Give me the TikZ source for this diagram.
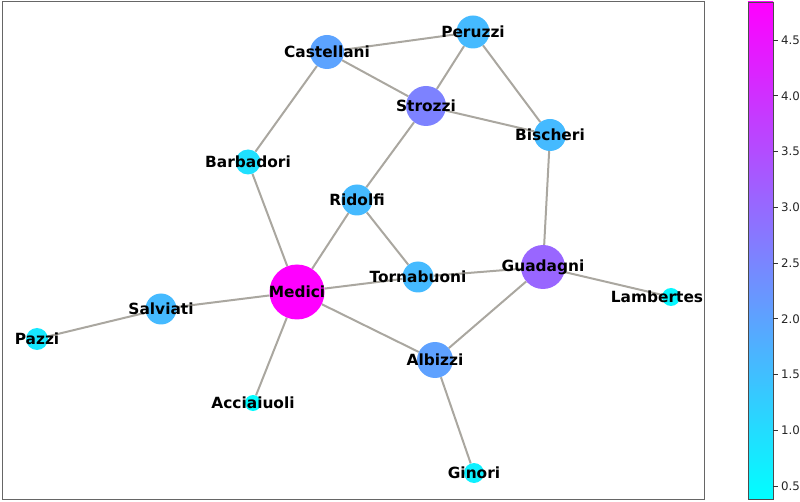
\documentclass[tikz,border=0pt]{standalone}
\usepackage{fontspec}
\setmainfont{DejaVu Sans}
\usetikzlibrary{backgrounds}
\definecolor{edgegray}{RGB}{170,167,160}
\definecolor{cMed}{rgb}{1.00,0.00,1}
\definecolor{cGua}{rgb}{0.60,0.40,1}
\definecolor{cStr}{rgb}{0.49,0.51,1}
\definecolor{cAlb}{rgb}{0.37,0.63,1}
\definecolor{cCas}{rgb}{0.36,0.64,1}
\definecolor{cMid}{rgb}{0.27,0.73,1}
\definecolor{cBar}{rgb}{0.12,0.88,1}
\definecolor{cPaz}{rgb}{0.09,0.91,1}
\definecolor{cGin}{rgb}{0.06,0.94,1}
\definecolor{cLam}{rgb}{0.03,0.97,1}
\definecolor{cAcc}{rgb}{0.01,0.99,1}
\tikzset{
  fam/.style={circle, inner sep=0pt, minimum size=#1, draw=none},
  lbl/.style={font=\bfseries\fontsize{15.4}{16}\selectfont, inner sep=0pt, text=black},
  edge/.style={draw=edgegray, line width=2pt},
  ticklbl/.style={font=\fontsize{11.8}{12}\selectfont, anchor=west, inner sep=0pt, text=black!85}
}
\begin{document}
\begin{tikzpicture}[x=1pt,y=-1pt]
\useasboundingbox (0,0) rectangle (800,502);
% nodes
\node[fam=34pt, fill=cCas] (Cas) at (327,52) {};
\node[fam=33pt, fill=cMid] (Per) at (473,32) {};
\node[fam=40pt, fill=cStr] (Str) at (426,106) {};
\node[fam=32pt, fill=cMid] (Bis) at (550,135) {};
\node[fam=25pt, fill=cBar] (Bar) at (248,162) {};
\node[fam=31pt, fill=cMid] (Rid) at (357,200) {};
\node[fam=55pt, fill=cMed] (Med) at (297,292) {};
\node[fam=31pt, fill=cMid] (Tor) at (418,277) {};
\node[fam=44pt, fill=cGua] (Gua) at (543,267) {};
\node[fam=18pt, fill=cLam] (Lam) at (671,297) {};
\node[fam=31pt, fill=cMid] (Sal) at (161,309) {};
\node[fam=22pt, fill=cPaz] (Paz) at (37,339) {};
\node[fam=16pt, fill=cAcc] (Acc) at (253,403) {};
\node[fam=36pt, fill=cAlb] (Alb) at (435,360) {};
\node[fam=20pt, fill=cGin] (Gin) at (474,473) {};
% edges
\begin{scope}[on background layer]
\draw[black!60, line width=1pt] (2,2) rectangle (704,499);
\draw[edge] (Cas) -- (Per);
\draw[edge] (Cas) -- (Str);
\draw[edge] (Cas) -- (Bar);
\draw[edge] (Per) -- (Str);
\draw[edge] (Per) -- (Bis);
\draw[edge] (Str) -- (Bis);
\draw[edge] (Str) -- (Rid);
\draw[edge] (Bis) -- (Gua);
\draw[edge] (Bar) -- (Med);
\draw[edge] (Rid) -- (Med);
\draw[edge] (Rid) -- (Tor);
\draw[edge] (Med) -- (Tor);
\draw[edge] (Med) -- (Sal);
\draw[edge] (Med) -- (Acc);
\draw[edge] (Med) -- (Alb);
\draw[edge] (Sal) -- (Paz);
\draw[edge] (Tor) -- (Gua);
\draw[edge] (Gua) -- (Lam);
\draw[edge] (Gua) -- (Alb);
\draw[edge] (Alb) -- (Gin);
\end{scope}
% labels
\node[lbl] (tCas) at (Cas) {Castellani};
\node[lbl] (tPer) at (Per) {Peruzzi};
\node[lbl] (tStr) at (Str) {Strozzi};
\node[lbl] (tBis) at (Bis) {Bischeri};
\node[lbl] (tBar) at (Bar) {Barbadori};
\node[lbl] (tRid) at (Rid) {Ridolfi};
\node[lbl] (tMed) at (Med) {Medici};
\node[lbl] (tTor) at (Tor) {Tornabuoni};
\node[lbl] (tGua) at (Gua) {Guadagni};
\node[lbl] (tLam) at (657,297) {Lambertes};
\node[lbl] (tSal) at (Sal) {Salviati};
\node[lbl] (tPaz) at (Paz) {Pazzi};
\node[lbl] (tAcc) at (Acc) {Acciaiuoli};
\node[lbl] (tAlb) at (Alb) {Albizzi};
\node[lbl] (tGin) at (Gin) {Ginori};
% colorbar
\shade[bottom color=cyan, top color=magenta] (748,2) rectangle (773,499);
\draw[black!70, line width=0.8pt] (748,2) rectangle (773,499);
\foreach \v/\y in {0.5/486,1.0/430.25,1.5/374.5,2.0/318.75,2.5/263,3.0/207.25,3.5/151.5,4.0/95.75,4.5/40}{
  \draw[black!80, line width=0.8pt] (773,\y) -- (777.5,\y);
  \node[ticklbl] (tick\v) at (781,\y) {\v};
}
\end{tikzpicture}
\end{document}
